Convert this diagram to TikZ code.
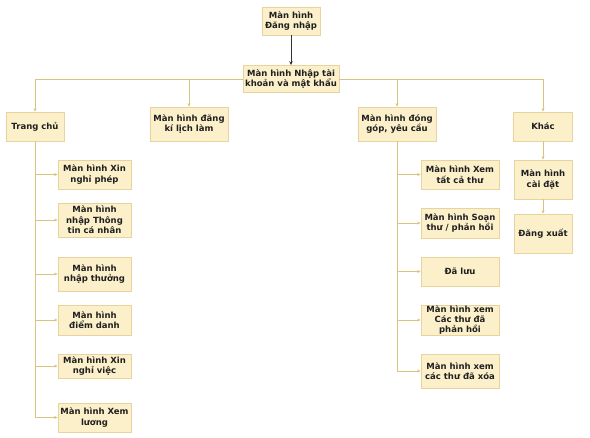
\documentclass[tikz,border=0pt]{standalone}
\usepackage{fontspec}
\setmainfont{DejaVu Sans}
\usetikzlibrary{arrows.meta}
\definecolor{boxfill}{HTML}{FCF0CB}
\definecolor{boxline}{HTML}{E6D39E}
\definecolor{conn}{HTML}{D8C47C}
\tikzset{
  box/.style={draw=boxline, line width=0.8pt, fill=boxfill, align=center, inner sep=0pt,
    font=\fontsize{8.5}{10.4}\selectfont\bfseries, text=black!88},
  link/.style={draw=conn, line width=0.7pt, -{Stealth[length=3.5pt,width=3pt]}},
}
\begin{document}
\begin{tikzpicture}[x=1pt,y=-1pt]
\useasboundingbox[fill=white] (0,0) rectangle (590,438);
% nodes
\node[box, minimum width=58, minimum height=28] (login) at (291,21) {Màn hình\\Đăng nhập};
\node[box, minimum width=96, minimum height=27] (main) at (291,79) {Màn hình Nhập tài\\khoản và mật khẩu};
\node[box, minimum width=58, minimum height=29] (home) at (35,126.5) {Trang chủ};
\node[box, minimum width=78, minimum height=34] (reg) at (189,124) {Màn hình đăng\\kí lịch làm};
\node[box, minimum width=78, minimum height=34] (contrib) at (397,124) {Màn hình đóng\\góp, yêu cầu};
\node[box, minimum width=59, minimum height=29] (other) at (543,126.5) {Khác};
\node[box, minimum width=58, minimum height=39] (settings) at (543,179.5) {Màn hình\\cài đặt};
\node[box, minimum width=58, minimum height=39] (logout) at (543,233.5) {Đăng xuất};
% home children
\node[box, minimum width=73, minimum height=29] (h1) at (94.5,174.5) {Màn hình Xin\\nghỉ phép};
\node[box, minimum width=73, minimum height=34] (h2) at (94.5,220) {Màn hình\\nhập Thông\\tin cá nhân};
\node[box, minimum width=73, minimum height=34] (h3) at (94.5,274) {Màn hình\\nhập thưởng};
\node[box, minimum width=73, minimum height=30] (h4) at (94.5,320) {Màn hình\\điểm danh};
\node[box, minimum width=73, minimum height=24] (h5) at (94.5,366) {Màn hình Xin\\nghỉ việc};
\node[box, minimum width=73, minimum height=29] (h6) at (94.5,417.5) {Màn hình Xem\\lương};
% contrib children
\node[box, minimum width=78, minimum height=29] (c1) at (460,174.5) {Màn hình Xem\\tất cả thư};
\node[box, minimum width=78, minimum height=30] (c2) at (460,223) {Màn hình Soạn\\thư / phản hồi};
\node[box, minimum width=78, minimum height=29] (c3) at (460,271.5) {Đã lưu};
\node[box, minimum width=78, minimum height=30] (c4) at (460,320) {Màn hình xem\\Các thư đã\\phản hồi};
\node[box, minimum width=78, minimum height=34] (c5) at (460,371) {Màn hình xem\\các thư đã xóa};
% connectors
\draw[line width=0.7pt, black!80, -{Stealth[length=4pt,width=3.5pt]}] (login) -- (main);
\draw[link] (main.west) -| (home.north);
\draw[link] (main.west) -| (reg.north);
\draw[link] (main.east) -| (contrib.north);
\draw[link] (main.east) -| (other.north);
\draw[link] (other) -- (settings);
\draw[link] (settings) -- (logout);
\foreach \c in {h1,h2,h3,h4,h5,h6} \draw[link] (home.south) |- (\c.west);
\foreach \c in {c1,c2,c3,c4,c5} \draw[link] (contrib.south) |- (\c.west);
\end{tikzpicture}
\end{document}
